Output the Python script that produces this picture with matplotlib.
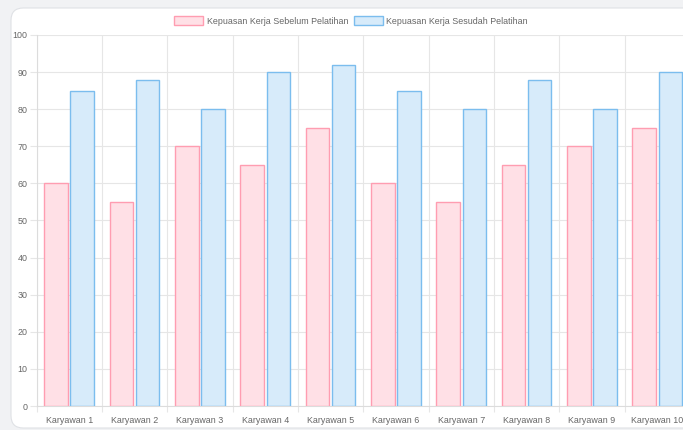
import matplotlib
matplotlib.use("Agg")
import matplotlib.pyplot as plt
from matplotlib.patches import FancyBboxPatch
import numpy as np

# Employee satisfaction scores before and after training
categories = ["Karyawan 1", "Karyawan 2", "Karyawan 3", "Karyawan 4", "Karyawan 5",
              "Karyawan 6", "Karyawan 7", "Karyawan 8", "Karyawan 9", "Karyawan 10"]
before = [60, 55, 70, 65, 75, 60, 55, 65, 70, 75]
after = [85, 88, 80, 90, 92, 85, 80, 88, 80, 90]
series_labels = ["Kepuasan Kerja Sebelum Pelatihan", "Kepuasan Kerja Sesudah Pelatihan"]
y_ticks = list(range(0, 101, 10))

W, H = 683, 430
DPI = 100
plt.rcParams["font.family"] = ["Liberation Sans", "DejaVu Sans"]

fig = plt.figure(figsize=(W / DPI, H / DPI), dpi=DPI)
fig.patch.set_facecolor("#f1f2f4")

# white card behind the chart
card = FancyBboxPatch((11 / W, 2 / H), 720 / W, (422 - 2) / H,
                      boxstyle="round,pad=0,rounding_size=0.018",
                      transform=fig.transFigure, facecolor="white",
                      edgecolor="#dfe1e5", linewidth=0.8, mutation_aspect=W / H,
                      zorder=-5)
fig.patches.append(card)

left_px, right_px, top_px, bottom_px = 36.5, 690, 35, 406
ax = fig.add_axes([left_px / W, (H - bottom_px) / H,
                   (right_px - left_px) / W, (bottom_px - top_px) / H])
ax.set_facecolor("none")
ax.set_zorder(2)

grid_c = "#e6e6e6"
text_c = "#666666"
fs = 6.4
px = 72 / DPI  # points per pixel

pink_fill, pink_edge = "#ffe0e6", "#ff9db1"
blue_fill, blue_edge = "#d7ebfa", "#7bbdee"

x = np.arange(len(categories))
w = 0.36
ax.bar(x - 0.2, before, width=w, color=pink_fill, edgecolor=pink_edge,
       linewidth=1.0, zorder=3, label=series_labels[0])
ax.bar(x + 0.2, after, width=w, color=blue_fill, edgecolor=blue_edge,
       linewidth=1.0, zorder=3, label=series_labels[1])

ax.set_xlim(-0.5, len(categories) - 0.5)
ax.set_ylim(0, 100)

ax.set_yticks(y_ticks)
ax.set_yticklabels([str(v) for v in y_ticks])
ax.set_xticks(x)
ax.set_xticklabels(categories)
ax.set_xticks(np.arange(-0.5, len(categories), 1.0), minor=True)

ax.tick_params(axis="y", length=7.5 * px, width=0.8, color=grid_c, pad=1.5 * px,
               labelsize=fs, labelcolor=text_c)
ax.tick_params(axis="x", which="major", length=0, pad=10 * px,
               labelsize=fs, labelcolor=text_c)
ax.tick_params(axis="x", which="minor", length=6 * px, width=0.8, color=grid_c)

ax.grid(True, axis="y", which="major", color=grid_c, linewidth=0.8, zorder=0)
ax.grid(True, axis="x", which="minor", color=grid_c, linewidth=0.8, zorder=0)
ax.grid(False, axis="x", which="major")
ax.set_axisbelow(True)

for s in ["top", "right"]:
    ax.spines[s].set_visible(False)
for s in ["left", "bottom"]:
    ax.spines[s].set_color("#dcdcdc")
    ax.spines[s].set_linewidth(0.8)

leg = fig.legend(loc="center", bbox_to_anchor=(351 / W, (H - 21) / H),
                 ncol=2, frameon=False, fontsize=fs, labelcolor=text_c,
                 handlelength=3.3, handleheight=1.2, handletextpad=0.4,
                 columnspacing=0.6)

fig.savefig("out.png", dpi=DPI, facecolor=fig.get_facecolor())
